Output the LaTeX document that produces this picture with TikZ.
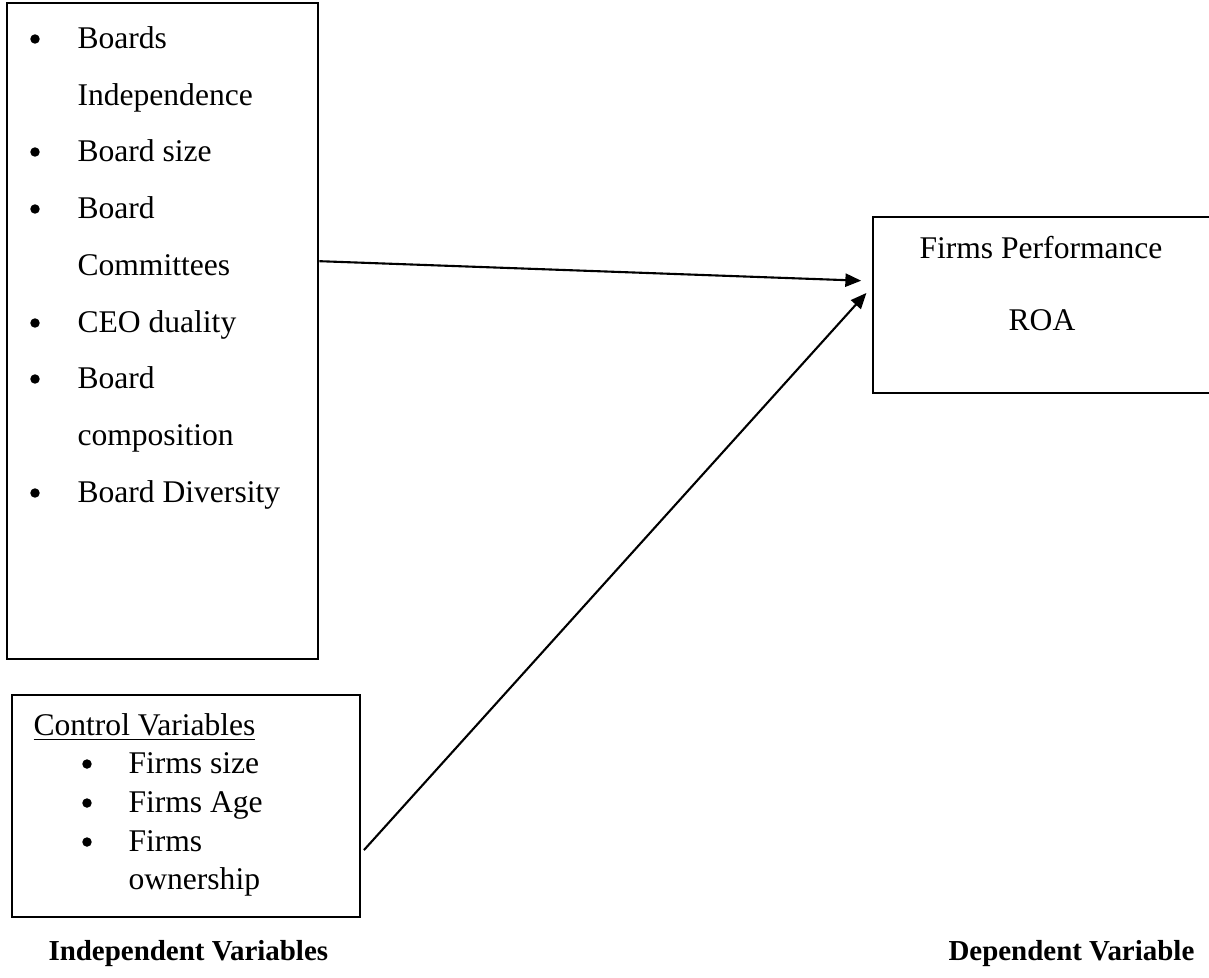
\documentclass[tikz,border=0pt]{standalone}
\usepackage{fontspec}
\setmainfont{Liberation Serif}
\usetikzlibrary{fit,arrows.meta}

\begin{document}
\begin{tikzpicture}[x=0.38pt,y=-0.38pt,>={Triangle[length=6pt,width=5pt]},
	box/.style={draw,line width=1pt,inner sep=0pt},
	txt/.style={anchor=base west,inner sep=0pt,font=\fontsize{12}{14}\selectfont},
	mid/.style={anchor=base,inner sep=0pt,font=\fontsize{12}{14}\selectfont},
	dot/.style={circle,fill,inner sep=0pt,minimum size=3.6pt},
	lab/.style={anchor=base west,inner sep=0pt,font=\fontsize{11}{13}\selectfont\bfseries},
	link/.style={->,line width=0.8pt}]
	\useasboundingbox (0,0) rectangle (1209,977);
	\clip (0,0) rectangle (1209,977);
	
	%boxes
	\node[box,fit={(7,3) (318,659)}]	(indep) {};
	\node[box,fit={(12,695) (360,917)}]	(ctrl) {};
	\node[box,fit={(873,217) (1211,393)}]	(dep) {};
	
	%independent variables
	\node[dot] (d1) at (35,39)  {};
	\node[txt] (t1) at (77,48)  {Boards};
	\node[txt] (t1b) at (77,105) {Independence};
	\node[dot] (d2) at (35,152) {};
	\node[txt] (t2) at (77,161) {Board size};
	\node[dot] (d3) at (35,209) {};
	\node[txt] (t3) at (77,218) {Board};
	\node[txt] (t3b) at (77,275) {Committees};
	\node[dot] (d4) at (35,323) {};
	\node[txt] (t4) at (77,332) {CEO duality};
	\node[dot] (d5) at (35,379) {};
	\node[txt] (t5) at (77,388) {Board};
	\node[txt] (t5b) at (77,445) {composition};
	\node[dot] (d6) at (35,493) {};
	\node[txt] (t6) at (77,502) {Board Diversity};
	
	%control variables
	\node[txt] (c0) at (33,735)  {\underline{Control Variables}};
	\node[dot] (e1) at (87,764)  {};
	\node[txt] (c1) at (128,773) {Firms size};
	\node[dot] (e2) at (87,803)  {};
	\node[txt] (c2) at (128,812) {Firms Age};
	\node[dot] (e3) at (87,842)  {};
	\node[txt] (c3) at (128,851) {Firms};
	\node[txt] (c3b) at (128,889) {ownership};
	
	%dependent variable
	\node[mid] (perf) at (1041,258) {Firms Performance};
	\node[mid] (roa) at (1042,330)  {ROA};
	
	%labels
	\node[lab] (indlab) at (48,960)  {Independent Variables};
	\node[lab] (deplab) at (948,960) {Dependent Variable};
	
	%arrows
	\draw[link,shorten >=4pt]			(indep.24) -- (dep.172);
	\draw[link,shorten <=1.5pt,shorten >=3pt]	(ctrl.-15) -- (dep.174);
\end{tikzpicture}
\end{document}
